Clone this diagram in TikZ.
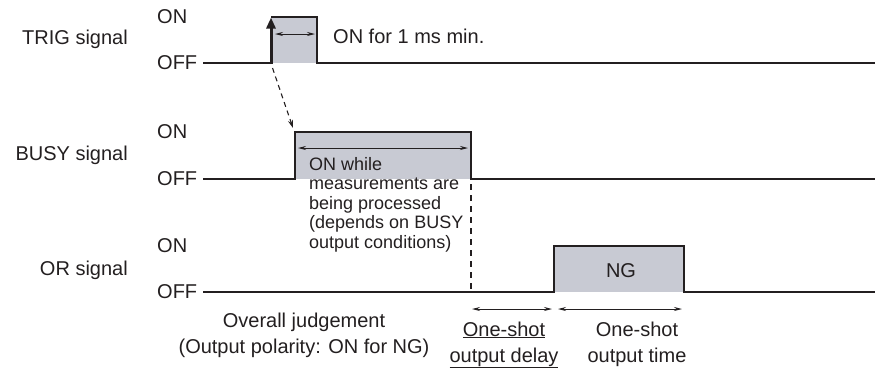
\documentclass[tikz,border=0pt]{standalone}
\usepackage{fontspec}
\setmainfont{Liberation Sans}
\usetikzlibrary{arrows.meta}
\definecolor{ink}{RGB}{35,31,32}
\definecolor{pulsefill}{RGB}{200,202,211}
\begin{document}
\begin{tikzpicture}[x=1pt,y=-1pt,
  txt/.style={inner sep=0pt, font=\fontsize{20}{21}\selectfont, text=ink},
  lbl/.style={txt, anchor=base east},
  lvl/.style={txt, anchor=base west},
  sig/.style={draw=ink, line width=2.4pt, line join=miter},
  spanarrow/.style={draw=ink, line width=0.9pt, {Stealth[length=8pt,width=4pt]}-{Stealth[length=8pt,width=4pt]}},
  dashline/.style={draw=ink, line width=1.1pt, dash pattern=on 5pt off 4pt},
  pulse/.style={fill=pulsefill, draw=none}]
\useasboundingbox (0,0) rectangle (875,368);

% labels
\node[lbl] (trigL) at (128,44) {TRIG signal};
\node[lbl] (busyL) at (128,160) {BUSY signal};
\node[lbl] (orL) at (128,275) {OR signal};
\node[lvl] (trigOn) at (157,23) {ON};
\node[lvl] (trigOff) at (157,69) {OFF};
\node[lvl] (busyOn) at (157,138) {ON};
\node[lvl] (busyOff) at (157,185) {OFF};
\node[lvl] (orOn) at (157,252) {ON};
\node[lvl] (orOff) at (157,298) {OFF};

% TRIG
\coordinate (tA) at (203,63);
\coordinate (tB) at (271,63);
\coordinate (tC) at (271,17);
\coordinate (tD) at (317,17);
\coordinate (tE) at (317,63);
\coordinate (tF) at (875,63);
\fill[pulse] (tC) rectangle (tE);
\draw[sig] (tA) -- (tB);
\draw[sig] (tC) -- (tD) -- (tE) -- (tF);
\draw[ink, line width=3pt, -{Triangle[length=11pt,width=9pt]}] (271,64) -- (271,17.5);
\coordinate (tsL) at (275,34);
\coordinate (tsR) at (315,34);
\draw[spanarrow] (tsL) -- (tsR);
\node[lvl] (trigTxt) at (333,43) {ON for 1 ms min.};

% dashed causal arrow
\coordinate (dS) at (272.5,68);
\coordinate (dE) at (293,128);
\draw[dashline, -{Stealth[length=8pt,width=5pt]}] (dS) -- (dE);

% BUSY
\coordinate (bA) at (203,179);
\coordinate (bB) at (295,179);
\coordinate (bC) at (295,132);
\coordinate (bD) at (471,132);
\coordinate (bE) at (471,179);
\coordinate (bF) at (875,179);
\fill[pulse] (bC) rectangle (bE);
\draw[sig] (bA) -- (bB) -- (bC) -- (bD) -- (bE) -- (bF);
\coordinate (bsL) at (298,148);
\coordinate (bsR) at (468,148);
\draw[spanarrow] (bsL) -- (bsR);
\node[txt, anchor=north west, align=left, font=\fontsize{18}{19.5}\selectfont] (busyTxt) at (309,156.9)
  {ON while\\measurements are\\being processed\\(depends on BUSY\\output conditions)};
\coordinate (vS) at (471,184);
\coordinate (vE) at (471,290);
\draw[dashline, dash pattern=on 6pt off 5pt] (vS) -- (vE);

% OR
\coordinate (oA) at (203,292);
\coordinate (oB) at (554,292);
\coordinate (oC) at (554,246);
\coordinate (oD) at (684,246);
\coordinate (oE) at (684,292);
\coordinate (oF) at (875,292);
\fill[pulse] (oC) rectangle (oE);
\draw[sig] (oA) -- (oB) -- (oC) -- (oD) -- (oE) -- (oF);
\node[txt, anchor=base] (ng) at (621,277) {NG};

% timing arrows
\coordinate (a1L) at (472,309);
\coordinate (a1R) at (552,309);
\coordinate (a2L) at (558,309);
\coordinate (a2R) at (682,309);
\draw[spanarrow] (a1L) -- (a1R);
\draw[spanarrow] (a2L) -- (a2R);

% bottom texts
\node[txt, anchor=north, align=center, font=\fontsize{20}{26}\selectfont] (overall) at (304,312.4)
  {Overall judgement\\(Output polarity: ON for NG)};
\node[txt, anchor=north, align=center, font=\fontsize{20}{26}\selectfont] (delay) at (504,321.4)
  {\underline{One-shot}\\\underline{output delay}};
\node[txt, anchor=north, align=center, font=\fontsize{20}{26}\selectfont] (otime) at (637,321.4)
  {One-shot\\output time};
\end{tikzpicture}
\end{document}
